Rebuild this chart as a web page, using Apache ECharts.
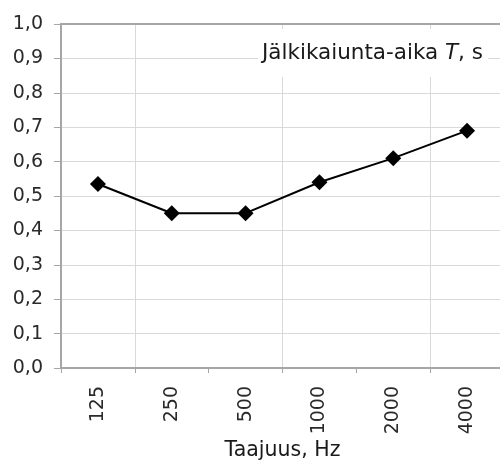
<!DOCTYPE html>
<html>
<head>
<meta charset="utf-8">
<script src="https://cdn.jsdelivr.net/npm/echarts@6/dist/echarts.min.js"></script>
<style>
  html, body { margin: 0; padding: 0; background: #fff; }
  #chart { width: 500px; height: 463px; }
</style>
</head>
<body>
<div id="chart"></div>
<script>
// taajuudet ja jälkikaiunta-ajat
var categories = ['125', '250', '500', '1000', '2000', '4000'];
var reverbTime = [0.535, 0.45, 0.45, 0.54, 0.61, 0.69];

var fontName = 'DejaVu Sans';
var axisGray = '#a6a6a6';
var gridGray = '#d9d9d9';
var none = 'rgba(0,0,0,0)';

var option = {
  animation: false,
  backgroundColor: '#fff',
  title: {
    text: 'Jälkikaiunta-aika {i|T}, s',
    left: 258,
    top: 29,
    padding: [12, 5, 12, 4],
    backgroundColor: '#fff',
    textStyle: {
      fontFamily: fontName,
      fontSize: 21.5,
      fontWeight: 'normal',
      lineHeight: 24,
      color: '#1a1a1a',
      rich: {
        i: { fontFamily: fontName, fontSize: 21.5, fontStyle: 'italic', color: '#1a1a1a', lineHeight: 24 }
      }
    }
  },
  grid: [{
    left: 61,
    top: 24,
    width: 443,
    height: 344,
    outerBoundsMode: 'none'
  }, {
    // apuruudukko pystyviivoille (125 ... 2000 + puolikas)
    left: 61,
    top: 24,
    width: 369,
    height: 344,
    outerBoundsMode: 'none'
  }],
  xAxis: [{
    type: 'category',
    data: categories,
    boundaryGap: true,
    name: 'Taajuus, Hz',
    nameLocation: 'middle',
    nameGap: 72,
    nameMoveOverlap: false,
    nameTextStyle: { fontFamily: fontName, fontSize: 20.5, color: '#1a1a1a' },
    axisLine: { lineStyle: { color: axisGray, width: 2 } },
    axisTick: { show: true, length: 5, lineStyle: { color: axisGray, width: 1 } },
    axisLabel: {
      rotate: 90,
      margin: 18,
      fontFamily: fontName,
      fontSize: 19,
      color: '#2a2a2a'
    },
    splitLine: { show: false }
  }, {
    // ylälaidan viiva
    type: 'category',
    data: categories,
    position: 'top',
    axisLine: { show: true, lineStyle: { color: axisGray, width: 2 } },
    axisTick: { show: false },
    axisLabel: { show: false },
    splitLine: { show: false }
  }, {
    // pystyviivat joka toisen välin kohdalla
    gridIndex: 1,
    type: 'value',
    min: 0,
    max: 5,
    interval: 1,
    axisLine: { show: false },
    axisTick: { show: false },
    axisLabel: { show: false },
    splitLine: {
      show: true,
      lineStyle: { color: [none, gridGray], width: 1 }
    }
  }],
  yAxis: [{
    type: 'value',
    min: 0,
    max: 1,
    interval: 0.1,
    axisLine: { show: true, lineStyle: { color: axisGray, width: 2 } },
    axisTick: { show: true, length: 7, lineStyle: { color: axisGray, width: 1 } },
    axisLabel: {
      margin: 18,
      fontFamily: fontName,
      fontSize: 19,
      color: '#2a2a2a',
      formatter: function (v) { return v.toFixed(1).replace('.', ','); }
    },
    splitLine: { show: true, lineStyle: { color: gridGray, width: 1 } }
  }, {
    gridIndex: 1,
    type: 'value',
    min: 0,
    max: 1,
    axisLine: { show: false },
    axisTick: { show: false },
    axisLabel: { show: false },
    splitLine: { show: false }
  }],
  series: [{
    type: 'line',
    data: reverbTime,
    symbol: 'diamond',
    symbolSize: 16,
    lineStyle: { color: '#000', width: 2 },
    itemStyle: { color: '#000' }
  }]
};

echarts.init(document.getElementById('chart')).setOption(option);
</script>
</body>
</html>
